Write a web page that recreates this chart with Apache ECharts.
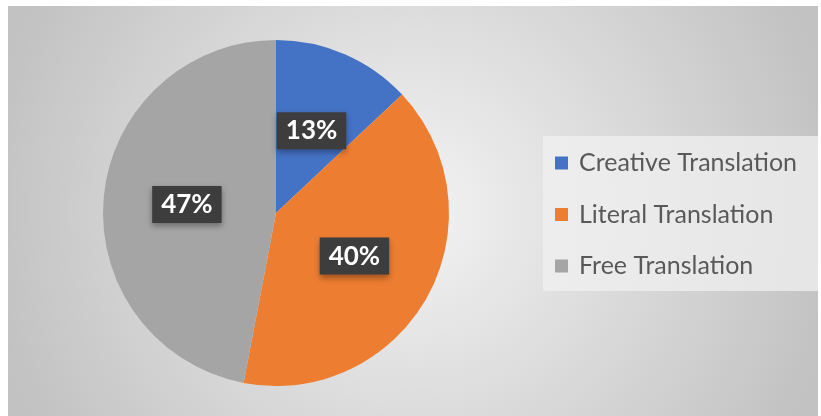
<!DOCTYPE html>
<html>
<head>
<meta charset="utf-8">
<script src="https://cdn.jsdelivr.net/npm/echarts@6/dist/echarts.min.js"></script>
<style>
html,body{margin:0;padding:0;background:#ffffff;width:821px;height:416px;overflow:hidden;}
#chart{position:absolute;left:8px;top:6px;width:810px;height:410px;}
</style>
</head>
<body>
<div id="chart"></div>
<script>
const categories = ['Creative Translation', 'Literal Translation', 'Free Translation'];
const values = [13, 40, 47];
const colors = ['#4472C4', '#ED7D31', '#A5A5A5'];

const chart = echarts.init(document.getElementById('chart'), null, {renderer: 'canvas'});
const option = {
  animation: false,
  backgroundColor: {
    type: 'radial', x: 0.5, y: 0.5, r: 1.05,
    colorStops: [
      {offset: 0, color: '#f3f3f3'},
      {offset: 1, color: '#c2c2c2'}
    ]
  },
  graphic: [{
    type: 'rect', left: 535, top: 130, z: -1,
    shape: {width: 275, height: 155},
    style: {fill: 'rgba(240,240,240,0.75)'}
  }],
  legend: {
    orient: 'vertical',
    left: 535, top: 130,
    padding: [14, 0, 14, 12],
    itemWidth: 13, itemHeight: 13,
    itemGap: 25.5,
    icon: 'rect',
    data: categories,
    textStyle: {
      fontFamily: 'Lato', fontSize: 25, color: '#595959',
      lineHeight: 26, padding: [0, 0, 0, 6]
    }
  },
  series: [{
    type: 'pie',
    center: [268, 207],
    radius: 173,
    startAngle: 90,
    clockwise: true,
    color: colors,
    itemStyle: {borderWidth: 0},
    label: {
      show: true,
      position: 'inside',
      formatter: '{d}%',
      fontFamily: 'Lato',
      fontWeight: 'bold',
      fontSize: 26,
      color: '#ffffff',
      backgroundColor: '#3d3d3d',
      padding: [6, 9, 5, 9],
      shadowColor: 'rgba(0,0,0,0.35)',
      shadowBlur: 6,
      shadowOffsetY: 3
    },
    labelLine: {show: false},
    data: categories.map((c, i) => ({name: c, value: values[i]}))
  }]
};
chart.setOption(option);
</script>
</body>
</html>
